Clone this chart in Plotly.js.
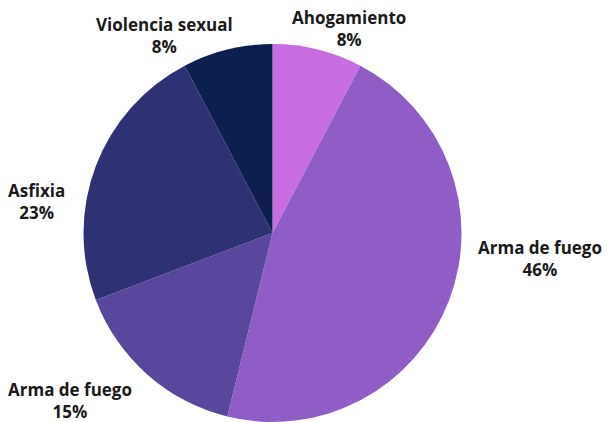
<!DOCTYPE html>
<html>
<head>
<meta charset="utf-8">
<script src="https://cdn.plot.ly/plotly-3.0.1.min.js"></script>
<style>html,body{margin:0;padding:0;background:#fff}#chart{width:607px;height:422px}</style>
</head>
<body>
<div id="chart"></div>
<script>
const categories = ["Ahogamiento", "Arma de fuego", "Arma de fuego", "Asfixia", "Violencia sexual"];
const values = [1, 6, 2, 3, 1];
const colors = ["#c86ce1", "#8f5dc5", "#58479c", "#2e3274", "#0c1f4e"];
// label block centres (pixels) – layout only
const labelPos = [[349, 28], [540, 258], [70, 400], [36, 202], [164, 35]];

const total = values.reduce((a, b) => a + b, 0);
const W = 607, H = 422;
const font = {family: "'Open Sans', sans-serif", size: 17, color: "#1a1a1a"};
const annotations = categories.map((c, i) => ({
  text: "<b>" + c + "</b><br><b>" + Math.round(values[i] / total * 100) + "%</b>",
  x: labelPos[i][0] / W, y: 1 - labelPos[i][1] / H,
  xref: "paper", yref: "paper", xanchor: "center", yanchor: "middle",
  showarrow: false, align: "center", font: font
}));

const data = [{
  type: "pie",
  labels: categories.map((c, i) => c + " " + i),
  values: values,
  sort: false,
  direction: "clockwise",
  rotation: 0,
  marker: {colors: colors, line: {color: "#ffffff", width: 0}},
  textinfo: "none",
  hoverinfo: "none",
  domain: {x: [0.1376, 0.7603], y: [0, 0.8957]}
}];

const layout = {
  width: W, height: H,
  margin: {l: 0, r: 0, t: 0, b: 0},
  showlegend: false,
  paper_bgcolor: "#fff",
  annotations: annotations
};
Plotly.newPlot("chart", data, layout, {displayModeBar: false, staticPlot: true});
</script>
</body>
</html>
